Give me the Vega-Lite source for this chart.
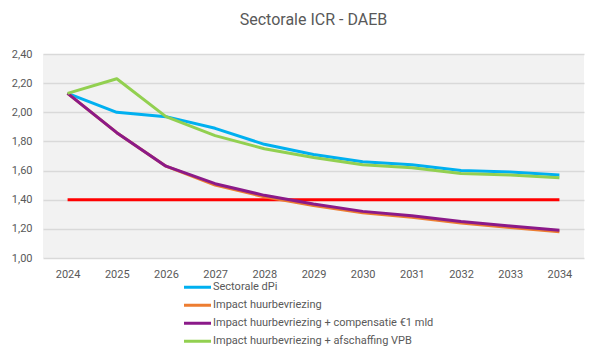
{
  "$schema": "https://vega.github.io/schema/vega-lite/v6.json",
  "autosize": "none",
  "width": 541,
  "height": 204,
  "padding": {"left": 43, "top": 54, "right": 16, "bottom": 100},
  "background": "white",
  "title": {
    "text": "Sectorale ICR - DAEB",
    "fontSize": 16,
    "font": "Roboto",
    "fontWeight": "normal",
    "color": "#595959",
    "anchor": "middle",
    "offset": 20
  },
  "config": {
    "view": {"fill": "#f2f2f2", "stroke": null},
    "font": "Roboto",
    "axis": {"labelColor": "#595959", "labelFontSize": 11, "labelFont": "Roboto", "domain": false, "ticks": false, "title": null},
    "axisY": {"labelOverlap": false},
    "legend": {"labelColor": "#595959", "labelFontSize": 11, "labelFont": "Roboto", "labelLimit": 400}
  },
  "datasets": {
    "series": [
      {"year": "2024", "series": "Sectorale dPi", "value": 2.13},
      {"year": "2025", "series": "Sectorale dPi", "value": 2.00},
      {"year": "2026", "series": "Sectorale dPi", "value": 1.97},
      {"year": "2027", "series": "Sectorale dPi", "value": 1.89},
      {"year": "2028", "series": "Sectorale dPi", "value": 1.78},
      {"year": "2029", "series": "Sectorale dPi", "value": 1.71},
      {"year": "2030", "series": "Sectorale dPi", "value": 1.66},
      {"year": "2031", "series": "Sectorale dPi", "value": 1.64},
      {"year": "2032", "series": "Sectorale dPi", "value": 1.60},
      {"year": "2033", "series": "Sectorale dPi", "value": 1.59},
      {"year": "2034", "series": "Sectorale dPi", "value": 1.57},
      {"year": "2024", "series": "Impact huurbevriezing", "value": 2.13},
      {"year": "2025", "series": "Impact huurbevriezing", "value": 1.86},
      {"year": "2026", "series": "Impact huurbevriezing", "value": 1.63},
      {"year": "2027", "series": "Impact huurbevriezing", "value": 1.50},
      {"year": "2028", "series": "Impact huurbevriezing", "value": 1.42},
      {"year": "2029", "series": "Impact huurbevriezing", "value": 1.36},
      {"year": "2030", "series": "Impact huurbevriezing", "value": 1.31},
      {"year": "2031", "series": "Impact huurbevriezing", "value": 1.28},
      {"year": "2032", "series": "Impact huurbevriezing", "value": 1.24},
      {"year": "2033", "series": "Impact huurbevriezing", "value": 1.21},
      {"year": "2034", "series": "Impact huurbevriezing", "value": 1.18},
      {"year": "2024", "series": "Impact huurbevriezing + compensatie €1 mld", "value": 2.13},
      {"year": "2025", "series": "Impact huurbevriezing + compensatie €1 mld", "value": 1.86},
      {"year": "2026", "series": "Impact huurbevriezing + compensatie €1 mld", "value": 1.63},
      {"year": "2027", "series": "Impact huurbevriezing + compensatie €1 mld", "value": 1.51},
      {"year": "2028", "series": "Impact huurbevriezing + compensatie €1 mld", "value": 1.43},
      {"year": "2029", "series": "Impact huurbevriezing + compensatie €1 mld", "value": 1.37},
      {"year": "2030", "series": "Impact huurbevriezing + compensatie €1 mld", "value": 1.32},
      {"year": "2031", "series": "Impact huurbevriezing + compensatie €1 mld", "value": 1.29},
      {"year": "2032", "series": "Impact huurbevriezing + compensatie €1 mld", "value": 1.25},
      {"year": "2033", "series": "Impact huurbevriezing + compensatie €1 mld", "value": 1.22},
      {"year": "2034", "series": "Impact huurbevriezing + compensatie €1 mld", "value": 1.19},
      {"year": "2024", "series": "Impact huurbevriezing + afschaffing VPB", "value": 2.13},
      {"year": "2025", "series": "Impact huurbevriezing + afschaffing VPB", "value": 2.23},
      {"year": "2026", "series": "Impact huurbevriezing + afschaffing VPB", "value": 1.97},
      {"year": "2027", "series": "Impact huurbevriezing + afschaffing VPB", "value": 1.84},
      {"year": "2028", "series": "Impact huurbevriezing + afschaffing VPB", "value": 1.75},
      {"year": "2029", "series": "Impact huurbevriezing + afschaffing VPB", "value": 1.69},
      {"year": "2030", "series": "Impact huurbevriezing + afschaffing VPB", "value": 1.64},
      {"year": "2031", "series": "Impact huurbevriezing + afschaffing VPB", "value": 1.62},
      {"year": "2032", "series": "Impact huurbevriezing + afschaffing VPB", "value": 1.58},
      {"year": "2033", "series": "Impact huurbevriezing + afschaffing VPB", "value": 1.57},
      {"year": "2034", "series": "Impact huurbevriezing + afschaffing VPB", "value": 1.55}
    ],
    "grens": [
      {"year": "2024", "value": 1.4},
      {"year": "2025", "value": 1.4},
      {"year": "2026", "value": 1.4},
      {"year": "2027", "value": 1.4},
      {"year": "2028", "value": 1.4},
      {"year": "2029", "value": 1.4},
      {"year": "2030", "value": 1.4},
      {"year": "2031", "value": 1.4},
      {"year": "2032", "value": 1.4},
      {"year": "2033", "value": 1.4},
      {"year": "2034", "value": 1.4}
    ]
  },
  "encoding": {
    "x": {"field": "year", "type": "ordinal", "axis": {"labelAngle": 0, "labelPadding": 10, "grid": false}},
    "y": {
      "field": "value", "type": "quantitative",
      "scale": {"domain": [1, 2.4], "nice": false, "zero": false},
      "axis": {"values": [1, 1.2, 1.4, 1.6, 1.8, 2.0, 2.2, 2.4], "labelOverlap": false, "labelExpr": "replace(format(datum.value, '.2f'), '.', ',')", "labelPadding": 11, "gridColor": "#d9d9d9", "gridWidth": 1.5}
    }
  },
  "layer": [
    {
      "data": {"name": "grens"},
      "mark": {"type": "line", "color": "#ff0000", "strokeWidth": 3}
    },
    {
      "data": {"name": "series"},
      "mark": {"type": "line", "strokeWidth": 3, "strokeJoin": "round"},
      "encoding": {
        "color": {
          "field": "series", "type": "nominal",
          "scale": {
            "domain": ["Sectorale dPi", "Impact huurbevriezing", "Impact huurbevriezing + compensatie €1 mld", "Impact huurbevriezing + afschaffing VPB"],
            "range": ["#00b0f0", "#ed7d31", "#8b1a89", "#92d050"]
          },
          "legend": {
            "title": null, "orient": "none", "legendX": 139.5, "legendY": 225.5, "direction": "vertical",
            "symbolType": "stroke", "symbolSize": 729, "symbolStrokeWidth": 3, "labelOffset": 0.5, "clipHeight": 15.5, "rowPadding": 2
          }
        },
        "order": {"field": "series"}
      }
    }
  ]
}
